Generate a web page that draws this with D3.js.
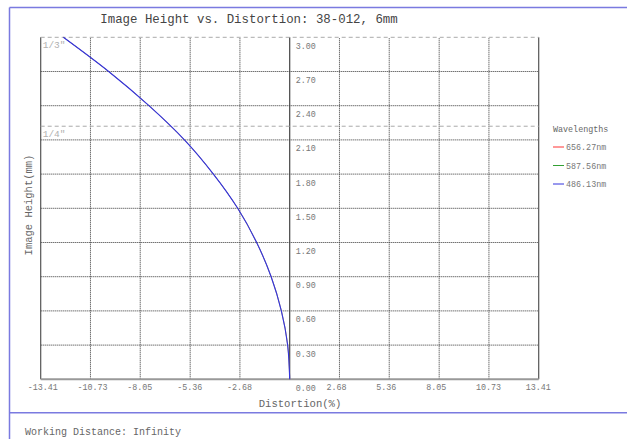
<!DOCTYPE html>
<html>
<head>
<meta charset="utf-8">
<script src="https://cdn.jsdelivr.net/npm/d3@7"></script>
<style>
  body { margin: 0; background: #fff; }
  text { font-family: "Liberation Mono", "DejaVu Sans Mono", monospace; }
</style>
</head>
<body>
<svg id="chart" width="627" height="439"></svg>
<script>
// values
const xTicks = [-13.41, -10.73, -8.05, -5.36, -2.68, 0, 2.68, 5.36, 8.05, 10.73, 13.41]
const yTicks = [0.3, 0.6, 0.9, 1.2, 1.5, 1.8, 2.1, 2.4, 2.7, 3.0]
const sensorNames = ["1/3\"", "1/4\""]
const sensorHeights = [3.0, 2.22]
const wavelengths = ["656.27nm", "587.56nm", "486.13nm"]
const waveColors = ["#ff3333", "#33a033", "#3333dd"]
const imageHeight = [0, 0.3, 0.6, 0.9, 1.2, 1.5, 1.8, 2.1, 2.4, 2.7, 3.0]
const distortion = [0, -0.11, -0.45, -1.0, -1.78, -2.8, -4.11, -5.67, -7.58, -9.75, -12.19]

const svg = d3.select("#chart")

const x = d3.scaleLinear().domain([-13.41, 13.41]).range([40.7, 538.7])
const y = d3.scaleLinear().domain([0, 3.0]).range([379.3, 37.3])

// outer frame
const frameColor = "#7a7ae0"
svg.append("line").attr("x1", 9.5).attr("x2", 627).attr("y1", 7.5).attr("y2", 7.5)
  .attr("stroke", frameColor).attr("stroke-width", 1.5)
svg.append("line").attr("x1", 9.5).attr("x2", 9.5).attr("y1", 7.5).attr("y2", 439)
  .attr("stroke", frameColor).attr("stroke-width", 1.5)
svg.append("line").attr("x1", 9.5).attr("x2", 627).attr("y1", 412.7).attr("y2", 412.7)
  .attr("stroke", frameColor).attr("stroke-width", 1.5)

svg.append("text")
  .attr("x", 249).attr("y", 23)
  .attr("text-anchor", "middle")
  .attr("font-size", 12.4)
  .attr("fill", "#444")
  .text("Image Height vs. Distortion: 38-012, 6mm")

// grid
const grid = svg.append("g").attr("class", "grid")
grid.selectAll("line.v")
  .data(xTicks.filter(d => d !== 0 && Math.abs(d) < 13.4))
  .enter().append("line")
  .attr("class", "v")
  .attr("x1", d => x(d)).attr("x2", d => x(d))
  .attr("y1", y(0)).attr("y2", y(3.0))
  .attr("stroke", "#333").attr("stroke-width", 1)
  .attr("stroke-dasharray", "1,1")
grid.selectAll("line.h")
  .data(yTicks.filter(d => d < 3.0))
  .enter().append("line")
  .attr("class", "h")
  .attr("x1", x(-13.41)).attr("x2", x(13.41))
  .attr("y1", d => y(d)).attr("y2", d => y(d))
  .attr("stroke", "#333").attr("stroke-width", 1)
  .attr("stroke-dasharray", "1,1")

// plot borders
svg.append("line").attr("x1", x(-13.41)).attr("x2", x(-13.41)).attr("y1", y(0)).attr("y2", y(3.0))
  .attr("stroke", "#555").attr("stroke-width", 1.2)
svg.append("line").attr("x1", x(13.41)).attr("x2", x(13.41)).attr("y1", y(0)).attr("y2", y(3.0))
  .attr("stroke", "#555").attr("stroke-width", 1.2)
svg.append("line").attr("x1", x(0)).attr("x2", x(0)).attr("y1", y(0)).attr("y2", y(3.0))
  .attr("stroke", "#444").attr("stroke-width", 1.2)
svg.append("line").attr("x1", x(-13.41)).attr("x2", x(13.41)).attr("y1", y(0)).attr("y2", y(0))
  .attr("stroke", "#999").attr("stroke-width", 2)

// sensor size markers
const sensors = svg.append("g")
sensors.selectAll("line")
  .data(sensorHeights)
  .enter().append("line")
  .attr("x1", x(-13.41)).attr("x2", x(13.41))
  .attr("y1", d => y(d)).attr("y2", d => y(d))
  .attr("stroke", "#aaa").attr("stroke-width", 1)
  .attr("stroke-dasharray", "4,3")
sensors.selectAll("text")
  .data(sensorHeights)
  .enter().append("text")
  .attr("x", x(-13.41) + 2).attr("y", d => y(d) + 11)
  .attr("font-size", 9.5)
  .attr("fill", "#b0b0b0")
  .text((d, i) => sensorNames[i])

// tick labels
svg.selectAll("text.ylab")
  .data([0].concat(yTicks))
  .enter().append("text")
  .attr("class", "ylab")
  .attr("x", x(0) + 6).attr("y", d => y(d) + 11.5)
  .attr("font-size", 8.4)
  .attr("fill", "#777")
  .text(d => d.toFixed(2))
svg.selectAll("text.xlab")
  .data(xTicks.filter(d => d !== 0))
  .enter().append("text")
  .attr("class", "xlab")
  .attr("x", d => x(d) - 13).attr("y", 390)
  .attr("font-size", 8.4)
  .attr("fill", "#777")
  .text(d => d.toFixed(2))

svg.append("text")
  .attr("x", 300).attr("y", 407)
  .attr("text-anchor", "middle")
  .attr("font-size", 10.6)
  .attr("fill", "#666")
  .text("Distortion(%)")
svg.append("text")
  .attr("transform", "translate(32,205) rotate(-90)")
  .attr("text-anchor", "middle")
  .attr("font-size", 10.5)
  .attr("fill", "#666")
  .text("Image Height(mm)")

// curves: red and green lie under the blue one
const line = d3.line()
  .x(d => x(d[0]))
  .y(d => y(d[1]))
  .curve(d3.curveMonotoneY)
const pts = distortion.map((d, i) => [d, imageHeight[i]])
svg.selectAll("path.curve")
  .data(wavelengths)
  .enter().append("path")
  .attr("class", "curve")
  .attr("d", line(pts))
  .attr("fill", "none")
  .attr("stroke", (d, i) => waveColors[i])
  .attr("stroke-width", (d, i) => i === 2 ? 1.1 : 0.4)

// legend
const legend = svg.append("g")
legend.append("text")
  .attr("x", 553).attr("y", 132)
  .attr("font-size", 8.4)
  .attr("fill", "#666")
  .text("Wavelengths")
const items = legend.selectAll("g.item")
  .data(wavelengths)
  .enter().append("g")
  .attr("class", "item")
  .attr("transform", (d, i) => "translate(553," + (147 + i * 18.5) + ")")
items.append("line")
  .attr("x1", 0).attr("x2", 11)
  .attr("stroke", (d, i) => waveColors[i]).attr("stroke-width", 1)
items.append("text")
  .attr("x", 13).attr("y", 3)
  .attr("font-size", 8.4)
  .attr("fill", "#777")
  .text(d => d)

svg.append("text")
  .attr("x", 25).attr("y", 434.5)
  .attr("font-size", 10)
  .attr("fill", "#666")
  .text("Working Distance: Infinity")
</script>
</body>
</html>
